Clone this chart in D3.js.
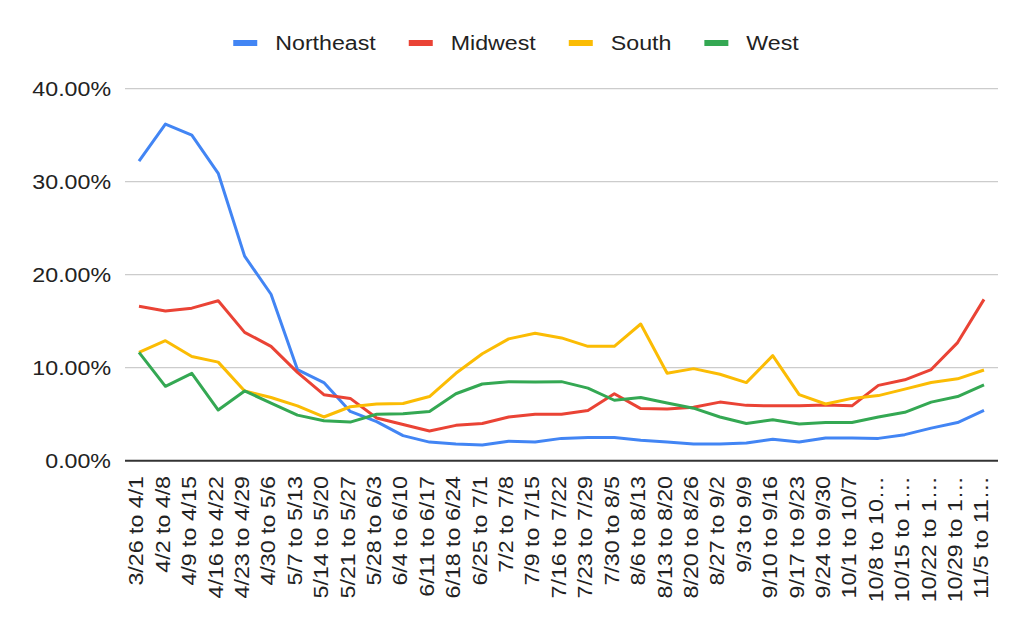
<!DOCTYPE html>
<html>
<head>
<meta charset="utf-8">
<script src="https://cdn.jsdelivr.net/npm/d3@7"></script>
<style>
  html, body { margin: 0; padding: 0; background: #fff; }
  svg { display: block; font-family: "Liberation Sans", Arial, sans-serif; }
</style>
</head>
<body>
<svg id="chart" width="1030" height="638"></svg>
<script>
const categories = ["3/26 to 4/1","4/2 to 4/8","4/9 to 4/15","4/16 to 4/22","4/23 to 4/29","4/30 to 5/6","5/7 to 5/13","5/14 to 5/20","5/21 to 5/27","5/28 to 6/3","6/4 to 6/10","6/11 to 6/17","6/18 to 6/24","6/25 to 7/1","7/2 to 7/8","7/9 to 7/15","7/16 to 7/22","7/23 to 7/29","7/30 to 8/5","8/6 to 8/13","8/13 to 8/20","8/20 to 8/26","8/27 to 9/2","9/3 to 9/9","9/10 to 9/16","9/17 to 9/23","9/24 to 9/30","10/1 to 10/7","10/8 to 10/14","10/15 to 10/21","10/22 to 10/28","10/29 to 11/4","11/5 to 11/11"];
const seriesNames = ["Northeast","Midwest","South","West"];
const northeast = [32.2,36.2,35.0,30.9,22.0,17.9,9.8,8.4,5.3,4.2,2.7,2.0,1.8,1.7,2.1,2.0,2.4,2.5,2.5,2.2,2.0,1.8,1.8,1.9,2.3,2.0,2.45,2.45,2.4,2.8,3.5,4.1,5.4];
const midwest = [16.6,16.1,16.4,17.2,13.8,12.3,9.5,7.1,6.7,4.6,3.9,3.2,3.8,4.0,4.7,5.0,5.0,5.4,7.2,5.6,5.55,5.75,6.3,5.95,5.9,5.9,6.0,5.9,8.1,8.7,9.8,12.7,17.35];
const south = [11.65,12.9,11.2,10.6,7.5,6.8,5.9,4.7,5.8,6.1,6.15,6.9,9.4,11.5,13.1,13.7,13.2,12.3,12.3,14.7,9.4,9.9,9.3,8.4,11.3,7.1,6.1,6.7,7.0,7.7,8.4,8.8,9.75];
const west = [11.65,8.0,9.4,5.45,7.5,6.2,4.9,4.3,4.15,5.0,5.05,5.3,7.2,8.25,8.5,8.45,8.5,7.8,6.5,6.8,6.2,5.65,4.7,4.0,4.4,3.95,4.1,4.1,4.7,5.2,6.3,6.9,8.15];
const yTicks = [0, 0.1, 0.2, 0.3, 0.4];
const colors = ["#4285F4","#EA4335","#FBBC04","#34A853"];

const series = [northeast, midwest, south, west];
const svg = d3.select("#chart");
const SX = 1.16; // horizontal glyph stretch to match reference font width

const plotLeft = 125, plotRight = 998, plotTop = 88.7, plotBottom = 460.7;
const x = d3.scalePoint().domain(categories).range([139, 984]);
const y = d3.scaleLinear().domain([0, 0.4]).range([plotBottom, plotTop]);

// gridlines
svg.append("g").selectAll("line").data(yTicks.filter(d => d > 0)).join("line")
  .attr("x1", plotLeft).attr("x2", plotRight)
  .attr("y1", d => y(d)).attr("y2", d => y(d))
  .attr("stroke", "#cccccc").attr("stroke-width", 1.3);

// y axis labels
svg.append("g").selectAll("text").data(yTicks).join("text")
  .attr("transform", d => `translate(111,${y(d)}) scale(${SX},1)`)
  .attr("dy", "0.36em")
  .attr("text-anchor", "end")
  .attr("font-size", 20)
  .attr("fill", "#222")
  .text(d => d3.format(".2%")(d));

// x labels
const trunc = s => s.length > 12 ? s.slice(0, 10) + "\u2026" : s;
svg.append("g").selectAll("text").data(categories).join("text")
  .attr("transform", d => `translate(${x(d)},476) rotate(-90) scale(${SX},1)`)
  .attr("dy", "0.22em")
  .attr("text-anchor", "end")
  .attr("font-size", 20)
  .attr("fill", "#222")
  .text(d => trunc(d));

// lines
const line = d3.line().x((d, i) => x(categories[i])).y(d => y(d / 100));
svg.append("g").selectAll("path").data(series).join("path")
  .attr("d", d => line(d))
  .attr("fill", "none")
  .attr("stroke", (d, i) => colors[i])
  .attr("stroke-width", 3)
  .attr("stroke-linejoin", "round");

// baseline
svg.append("line")
  .attr("x1", plotLeft).attr("x2", plotRight)
  .attr("y1", y(0)).attr("y2", y(0))
  .attr("stroke", "#333").attr("stroke-width", 2);

// legend
const legend = svg.append("g");
const items = legend.selectAll("g").data(seriesNames).join("g");
items.append("rect").attr("width", 24).attr("height", 6).attr("y", 40)
  .attr("fill", (d, i) => colors[i]);
items.append("text").attr("font-size", 20).attr("fill", "#222")
  .attr("transform", `translate(42,50) scale(${SX},1)`)
  .text(d => d);
let widths = [];
items.each(function() {
  const t = d3.select(this).select("text").node();
  widths.push(42 + t.getComputedTextLength() * SX);
});
const gap = 33;
const total = d3.sum(widths) + gap * (widths.length - 1);
let cx = 516 - total / 2;
items.each(function(d, i) {
  d3.select(this).attr("transform", `translate(${cx},0)`);
  cx += widths[i] + gap;
});
</script>
</body>
</html>
